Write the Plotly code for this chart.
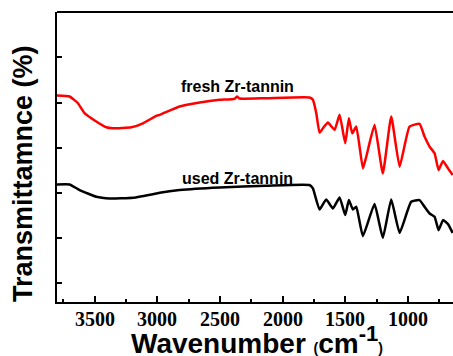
import plotly.graph_objects as go

# wavenumber (cm-1) and transmittance (arbitrary offset units)
wn_fresh = [3800, 3700, 3633, 3580, 3487, 3407, 3354, 3207, 3114, 3008, 2981, 2822, 2662, 2503,
            2383, 2364, 2343, 2130, 1785, 1758, 1731, 1705, 1678, 1638, 1585, 1545, 1500, 1471,
            1444, 1412, 1359, 1332, 1266, 1200, 1133, 1066, 987, 907, 867, 827, 787, 755, 720, 680, 643]
t_fresh = [20.60, 20.50, 19.83, 18.83, 18.00, 17.43, 17.33, 17.43, 17.83, 18.57, 18.67, 19.50, 19.90, 20.17,
           20.27, 20.50, 20.30, 20.33, 20.40, 20.17, 18.83, 16.90, 17.33, 17.90, 17.17, 18.67, 15.83, 18.33,
           16.83, 17.50, 13.33, 14.50, 17.67, 12.83, 18.50, 13.50, 17.50, 17.77, 16.50, 15.50, 14.83, 13.17,
           14.07, 13.33, 12.67]

wn_used = [3800, 3700, 3620, 3487, 3380, 3194, 3008, 2981, 2822, 2503, 2130, 1785, 1758, 1705, 1652,
           1598, 1545, 1500, 1471, 1439, 1412, 1359, 1266, 1200, 1133, 1066, 974, 907, 867, 827, 787,
           755, 720, 680, 643]
t_used = [11.73, 11.73, 11.17, 10.50, 10.33, 10.40, 10.83, 10.90, 11.17, 11.43, 11.60, 11.67, 11.33, 9.23, 10.23,
          9.33, 10.43, 8.67, 10.17, 9.23, 9.50, 6.57, 9.77, 6.40, 10.23, 6.90, 10.00, 10.17, 9.50, 8.83, 8.50,
          7.17, 8.17, 7.77, 6.90]

x_ticks = [3500, 3000, 2500, 2000, 1500, 1000]
x_ticktext = ["3500", "3000", "2500", "2000", "1500", "1000"]

SANS = "Liberation Sans"
SERIF = "Liberation Serif"

fig = go.Figure()
fig.add_trace(go.Scatter(x=wn_fresh, y=t_fresh, mode="lines",
                         line=dict(color="#ff0000", width=2.5, shape="spline", smoothing=0.4)))
fig.add_trace(go.Scatter(x=wn_used, y=t_used, mode="lines",
                         line=dict(color="#000000", width=2.5, shape="spline", smoothing=0.4)))

annotations = [
    dict(text="<b>fresh Zr-tannin</b>", x=2360, y=21.5, xref="x", yref="y", showarrow=False,
         font=dict(family=SANS, size=16, color="black")),
    dict(text="<b>used Zr-tannin</b>", x=2360, y=12.3, xref="x", yref="y", showarrow=False,
         font=dict(family=SANS, size=16, color="black")),
    dict(text="<b>Transmittamnce (%)</b>", textangle=-90,
         x=(23 - 57) / 396, y=(302 - 174) / 290, xref="paper", yref="paper",
         xanchor="center", yanchor="middle", showarrow=False,
         font=dict(family=SANS, size=27, color="black")),
    dict(text="<b>Wavenumber <span style='font-size:14px'>(</span>cm<sup><span style='font-size:22px'>-1</span></sup><span style='font-size:14px'>)</span></b>",
         x=0.505, y=-0.13, xref="paper", yref="paper", showarrow=False,
         xanchor="center", yanchor="middle",
         font=dict(family=SANS, size=28, color="black")),
]
# x tick labels drawn as annotations (serif bold, as in the original)
for v, t in zip(x_ticks, x_ticktext):
    annotations.append(dict(text="<b>%s</b>" % t, x=v, xref="x", y=-0.058, yref="paper",
                            xanchor="center", yanchor="middle", showarrow=False,
                            font=dict(family=SERIF, size=20, color="black")))

fig.update_layout(
    width=453, height=356,
    margin=dict(l=57, r=0, t=12, b=54),
    paper_bgcolor="white", plot_bgcolor="white",
    showlegend=False,
    xaxis=dict(range=[3800, 640], showgrid=False, zeroline=False,
               showline=True, linecolor="black", linewidth=2,
               ticks="inside", ticklen=6, tickwidth=2, tickcolor="black",
               tickvals=x_ticks, showticklabels=False,
               minor=dict(ticks="inside", ticklen=3, tickwidth=1.5, tickcolor="black",
                          tickvals=[3750, 3250, 2750, 2250, 1750, 1250, 750])),
    yaxis=dict(range=[0, 28.93], showgrid=False, zeroline=False,
               showline=True, linecolor="black", linewidth=2,
               ticks="inside", ticklen=5, tickwidth=1.5, tickcolor="black",
               tick0=1.9, dtick=4.5, showticklabels=False),
    shapes=[dict(type="line", xref="paper", yref="paper", x0=0, x1=1, y0=1, y1=1,
                 line=dict(color="black", width=2))],
    annotations=annotations,
)

fig.write_html("out.html")
